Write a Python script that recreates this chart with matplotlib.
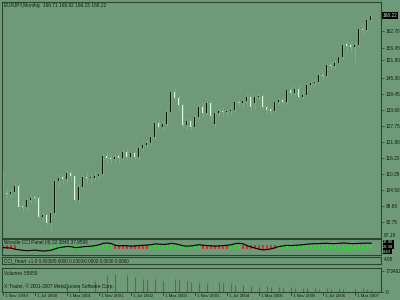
import numpy as np
import matplotlib
matplotlib.use("Agg")
import matplotlib.pyplot as plt
from matplotlib.transforms import blended_transform_factory

# monthly EURJPY candles, Nov 1999 .. Jul 2007
opens = [109.5, 103.3, 102.8, 103.6, 105.8, 98.2, 98.0, 100.7, 101.6, 101.3,
         94.5, 95.2, 92.3, 96.0, 107.7, 108.8, 108.5, 110.6, 109.5, 100.7,
         105.5, 109.1, 108.6, 108.8, 109.6, 110.2, 116.8, 116.1, 115.8, 116.5,
         116.2, 118.3, 116.5, 118.0, 116.5, 119.8, 120.9, 121.6, 123.8, 128.9,
         127.4, 128.5, 133.0, 140.3, 138.1, 135.5, 128.2, 129.5, 127.4, 131.1,
         134.8, 132.6, 136.2, 128.4, 132.6, 133.4, 132.8, 133.2, 133.6, 136.6,
         136.2, 136.8, 138.5, 136.2, 138.5, 138.9, 134.8, 133.7, 133.4, 136.6,
         137.2, 136.6, 141.0, 139.9, 141.4, 138.5, 139.2, 142.8, 143.6, 143.9,
         146.5, 146.2, 150.1, 149.7, 150.9, 153.1, 157.6, 157.2, 156.9, 157.5,
         163.3, 163.0, 166.71]
highs = [111.2, 104.8, 104.6, 106.8, 107.0, 100.2, 101.4, 102.4, 102.6, 102.2,
         96.4, 96.0, 97.0, 108.4, 110.2, 110.4, 111.6, 111.8, 110.2, 106.4,
         109.8, 110.6, 110.2, 111.0, 111.2, 117.6, 118.4, 117.4, 117.6, 118.0,
         119.2, 119.6, 118.8, 118.8, 120.6, 122.0, 122.6, 124.6, 129.8, 130.2,
         129.6, 133.6, 140.9, 141.6, 139.4, 136.4, 130.6, 130.8, 131.8, 135.4,
         136.2, 137.0, 137.2, 133.2, 134.4, 134.6, 134.2, 134.6, 137.4, 137.6,
         137.8, 139.4, 139.6, 139.2, 140.0, 139.6, 136.0, 135.2, 137.4, 138.2,
         138.4, 141.4, 142.0, 142.6, 142.8, 141.0, 143.4, 144.4, 145.0, 147.2,
         147.8, 150.8, 151.4, 151.8, 153.8, 157.9, 158.8, 158.4, 158.4, 164.0,
         164.6, 167.0, 168.92]
lows = [102.8, 101.6, 101.9, 103.0, 97.6, 96.6, 97.2, 99.6, 100.0, 94.0,
        93.2, 91.4, 89.8, 95.4, 105.6, 106.4, 107.0, 107.8, 99.6, 99.8,
        104.6, 106.8, 106.6, 107.6, 108.4, 109.6, 113.6, 113.8, 114.2, 114.8,
        115.6, 115.8, 115.6, 115.4, 115.2, 118.8, 119.6, 120.8, 123.2, 126.6,
        126.4, 127.6, 132.4, 136.8, 133.6, 127.4, 126.8, 126.2, 126.6, 130.2,
        131.2, 131.8, 129.6, 127.2, 131.4, 131.6, 131.2, 132.0, 132.6, 135.0,
        134.8, 135.6, 133.8, 134.2, 137.2, 134.0, 132.6, 132.2, 132.8, 135.6,
        135.4, 135.8, 139.2, 139.0, 137.6, 137.8, 138.6, 141.6, 142.4, 143.0,
        144.6, 145.4, 148.4, 148.6, 150.2, 152.4, 155.0, 154.6, 150.8, 156.8,
        161.2, 162.4, 166.15]
closes = [103.3, 102.8, 103.6, 105.8, 98.2, 98.0, 100.7, 101.6, 101.3, 94.5,
          95.2, 92.3, 96.0, 107.7, 108.8, 108.5, 110.6, 109.5, 100.7, 105.5,
          109.1, 108.6, 108.8, 109.6, 110.2, 116.8, 116.1, 115.8, 116.5, 116.2,
          118.3, 116.5, 118.0, 116.5, 119.8, 120.9, 121.6, 123.8, 128.9, 127.4,
          128.5, 133.0, 140.3, 138.1, 135.5, 128.2, 129.5, 127.4, 131.1, 134.8,
          132.6, 136.2, 131.6, 132.6, 133.4, 132.8, 133.2, 133.6, 136.6, 136.2,
          136.8, 138.5, 134.8, 138.5, 138.9, 134.8, 133.7, 133.4, 136.6, 137.2,
          136.6, 141.0, 139.9, 141.4, 138.5, 139.2, 142.8, 143.6, 143.9, 146.5,
          146.2, 150.1, 149.7, 150.9, 153.1, 157.6, 157.2, 156.9, 157.5, 163.3,
          163.0, 166.6, 168.22]

volumes = [0] * 14 + [
    150, 220, 180, 260, 310, 240, 280, 330,
    420, 380, 520, 600, 560, 680, 640, 720, 773, 610, 660, 540, 590,
    480, 430, 520, 460, 500, 400, 440, 560, 470, 420, 500, 380, 360,
    420, 330, 380, 300, 450, 520, 360, 330, 400, 300, 270, 320, 240, 280, 210, 250, 190,
    240, 200, 170, 220, 180, 150, 200, 170, 140, 190, 160, 130, 170, 150, 120, 160,
    140, 110, 150, 130, 100, 140, 170, 120, 160, 130, 110, 60]  # thousands

cci_line = [-20, -30, -40,
            -80, -100, -120, -130, -120, -110, -130, -140, -130, -110,
            -60, -20, 0, 20, 10, -20, -10, 10, 20, 30, 50, 80,
            130, 140, 120,
            60, 40, 50, 40, 30, 40, 50, 60, 70, 80,
            110, 100, 90, 100, 130, 110, 80, 40, 30, 40, 60, 80,
            60, 50, 40, 30, 40, 50, 60, 80,
            120, 130, 110,
            40, 0, -40, -80, -100, -90, -60, -20,
            20, 40, 60, 50, 60, 70, 80,
            100, 110, 120, 120, 130, 130, 120, 120, 130, 140, 130, 120, 120, 130, 130, 140, 130]
cci_state = ("RRRR" + "-" * 8 + "G" * 16 + "R" * 9 + "G" * 13
             + "R" * 7 + "GGG" + "R" * 9 + "G" * 24)

price_ticks = [92.75, 98.65, 104.50, 110.35, 116.20, 121.90, 127.75,
               133.60, 139.45, 145.30, 151.80, 156.45, 162.70]
date_labels = ["1 Nov 1999", "1 Jul 2000", "1 Mar 2001", "1 Nov 2001",
               "1 Jul 2002", "1 Mar 2003", "1 Nov 2003", "1 Jul 2004",
               "1 Mar 2005", "1 Nov 2005", "1 Jul 2006", "1 Mar 2007"]
date_idx = [0, 8, 16, 24, 32, 40, 48, 56, 64, 72, 80, 88]

plt.rcParams["font.family"] = ["Liberation Sans", "DejaVu Sans"]

BG = "#6f9a79"
FRAME = "#2b4630"
TXT = "#0e1e10"
WICK = "#34e034"
BULL = "#061206"
BEAR = "#e4fde0"
FS = 3.4
W, H = 400, 300
XLIM = (-0.35, 94.4)


def px_axes(fig, x0, y0, x1, y1):
    ax = fig.add_axes([x0 / W, 1 - y1 / H, (x1 - x0) / W, (y1 - y0) / H])
    ax.set_facecolor(BG)
    ax.set_xlim(*XLIM)
    ax.set_xticks([])
    for s in ax.spines.values():
        s.set_color(FRAME)
        s.set_linewidth(0.8)
    ax.yaxis.tick_right()
    ax.tick_params(axis="y", length=2, width=0.5, color=FRAME, labelsize=FS,
                   labelcolor=TXT, pad=1.2)
    return ax


def main() -> None:
    fig = plt.figure(figsize=(4, 3), dpi=100, facecolor=BG)
    idx = np.arange(len(opens))
    o, h, l, c = map(np.asarray, (opens, highs, lows, closes))

    # price panel
    ax = px_axes(fig, 2, 2, 381, 238)
    ax.set_ylim(86.8, 173.2)
    ax.vlines(idx, l, h, color=WICK, linewidth=0.75)
    bottom = np.minimum(o, c)
    height = np.maximum(np.abs(c - o), 0.45)
    colors = [BULL if cc >= oo else BEAR for oo, cc in zip(o, c)]
    ax.bar(idx, height, bottom=bottom, width=0.5, color=colors, linewidth=0)
    ax.set_yticks(price_ticks)
    ax.set_yticklabels([f"{v:.2f}" for v in price_ticks])
    ax.text(0.004, 0.994, "EURJPY,Monthly  166.71 168.92 166.15 168.22", transform=ax.transAxes,
            fontsize=FS, color=TXT, va="top", ha="left")
    tr = blended_transform_factory(ax.transAxes, ax.transData)
    ax.text(1.005, c[-1], f"{c[-1]:.2f}", transform=tr, fontsize=FS, color="#cfe8cf", va="center",
            ha="left", bbox=dict(boxstyle="square,pad=0.15", fc="black", ec="none"))
    ax.text(1.008, 87.6, "87.18", transform=tr, fontsize=FS, color=TXT, va="center", ha="left")

    # Woodie CCI panel
    ax2 = px_axes(fig, 2, 239, 381, 255)
    ax2.set_ylim(-280, 280)
    ax2.set_yticks([])
    cmap = {"R": "#d83028", "G": "#2ed82e"}
    for i, s in enumerate(cci_state):
        if s in cmap:
            ax2.bar(i, 130, bottom=-65, width=0.5, color=cmap[s], linewidth=0)
    ax2.plot(idx, cci_line, color="black", linewidth=0.8)
    ax2.text(0.004, 0.92, "Woodie CCI Panel (4) 22.3840 37.9598", transform=ax2.transAxes,
             fontsize=FS, color=TXT, va="top", ha="left")
    ax2.text(0.87, 0.35, "CCI: 168.49 +37", transform=ax2.transAxes,
             fontsize=FS, color="#2ed82e", va="center", ha="left")
    for yy, lab in [(0.8, "37.96"), (0.5, "22.38"), (0.2, "8.40")]:
        ax2.text(1.006, yy, lab, transform=ax2.transAxes, fontsize=FS - 0.4, color="#cfe8cf",
                 va="center", ha="left", bbox=dict(boxstyle="square,pad=0.1", fc="black", ec="none"))

    # CCI_Heart panel
    ax3 = px_axes(fig, 2, 257, 381, 264)
    ax3.set_yticks([])
    ax3.text(0.004, 0.5, "CCI_Heart +1.0 0.0000/0.0000 0.0000/0.0000 0.0000 0.0000",
             transform=ax3.transAxes, fontsize=FS, color=TXT, va="center", ha="left")
    ax3.text(1.008, 0.6, "4.95", transform=ax3.transAxes, fontsize=FS, color=TXT,
             va="center", ha="left")

    # volume panel
    ax4 = px_axes(fig, 2, 268, 381, 292)
    vol = np.asarray(volumes) * 1000.0
    ax4.set_ylim(0, 773462 * 1.12)
    vcol = ["#2fd02f"] + ["#2fd02f" if vol[i] >= vol[i - 1] else "#d83030" for i in range(1, len(vol))]
    ax4.vlines(idx, 0, vol, colors=vcol, linewidth=0.75)
    ax4.set_yticks([0, 773462])
    ax4.set_yticklabels(["0", "773462"])
    ax4.text(0.004, 0.86, "Volumes 55850", transform=ax4.transAxes, fontsize=FS, color=TXT,
             va="top", ha="left")
    ax4.text(0.004, 0.12, "X-Trader, \u00a9 2001-2007 MetaQuotes Software Corp.",
             transform=ax4.transAxes, fontsize=FS, color=TXT, va="bottom", ha="left")
    trx = blended_transform_factory(ax4.transData, ax4.transAxes)
    for i, lab in zip(date_idx, date_labels):
        ax4.plot([i, i], [0, -0.12], color=FRAME, linewidth=0.6, transform=trx, clip_on=False)
        ax4.text(i + 0.35, -0.09, lab, transform=trx, fontsize=FS - 0.2, color=TXT, va="top", ha="left")

    fig.savefig("out.png", dpi=100, facecolor=BG)
    plt.close(fig)


if __name__ == "__main__":
    main()
